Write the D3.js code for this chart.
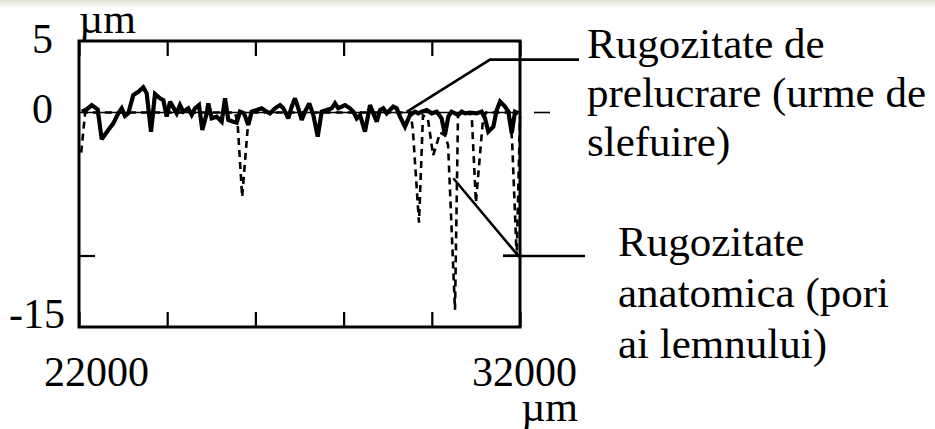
<!DOCTYPE html>
<html><head><meta charset="utf-8"><script src="https://cdn.jsdelivr.net/npm/d3@7"></script></head>
<body style="margin:0">
<svg id="chart" width="935" height="429"></svg>
<script>
// ---- data (µm) ----
const xDomain = [22000, 32000];
const yDomain = [-15, 5];
const xTickValues = [22000, 24000, 26000, 28000, 30000, 32000];
const xTickLabels = ["22000", "32000"];
const yInnerTickValues = [-10];
const yTickLabels = ["5", "0", "-15"];
const yTickLabelValues = [5, 0, -15];
const axisUnit = "µm";

// machining roughness (solid)
const solidX = [22061,22175,22288,22424,22515,22664,22778,22891,22968,23043,23118,23231,23345,23458,23535,23633,23723,23837,23912,23989,24064,24138,24215,24290,24365,24478,24555,24630,24721,24796,24896,24932,25009,25122,25236,25311,25386,25499,25576,25651,25742,25839,25916,26030,26143,26256,26331,26444,26558,26633,26746,26823,26898,26973,27050,27125,27222,27313,27413,27503,27617,27730,27805,27880,27957,28032,28145,28220,28297,28372,28485,28599,28674,28751,28826,28900,28977,29052,29127,29204,29279,29392,29506,29619,29694,29771,29884,29998,30111,30222,30299,30374,30449,30526,30601,30678,30753,30866,31018,31129,31207,31281,31395,31472,31547,31660,31735,31812,31887,31962];
const solidY = [0.06,0.22,0.52,0.22,-1.87,-1.22,-0.76,-0.06,0.29,-0.24,-0.06,1.22,1.45,1.76,1.34,-1.34,1.29,0.99,0.87,-0.29,0.76,0.36,-0.06,0.52,0.06,0.29,-0.17,0.29,0.52,-1.22,-0.06,0.64,-0.41,-0.29,-0.64,0.99,-0.52,-0.64,-0.71,0.06,-0.06,-0.87,0.06,0.17,0.29,0.06,-0.06,0.29,0.52,0.29,-0.41,0.41,0.99,0.29,-0.52,0.06,0.64,-0.17,-1.69,0.06,0.17,0.29,0.64,0.29,0.41,0.52,0.29,0.06,-0.41,-0.17,-1.34,0.52,-0.06,-0.64,0.17,0.29,-0.06,0.17,0.41,0.29,-0.29,-0.99,-0.17,0.06,-0.06,0.06,0.17,-0.06,0.06,-0.41,-1.57,-0.29,0.06,-0.06,-0.17,0.06,-0.06,-0.01,-0.06,0.06,-0.41,-1.34,-0.99,0.17,0.76,0.41,0.06,-1.45,0.06,-0.06];

// anatomical roughness, wood pores (dashed)
const dashX = [22050,22140,25540,25600,25700,25830,25920,29520,29570,29710,29800,29910,30030,30190,30300,30370,30526,30594,30650,30860,30910,31000,31160,31230,31760,31820,31925,32000];
const dashY = [-2.8,0,0,-0.9,-5.9,-0.9,0,0,-1.2,-7.7,-0.2,-0.4,-3.0,-1.4,-1.6,-2.3,-13.8,-0.2,0,0,-0.5,-6.3,-0.5,0,0,-1.9,-10.1,-0.3];

// annotations: leader anchor points (data units) and label lines
const anno1Pts = [[29430, 0.05], [31320, 3.7]];
const anno1Lines = ["Rugozitate de", "prelucrare (urme de", "slefuire)"];
const anno2Pts = [[30488, -4.6], [31962, -10.03]];
const anno2Lines = ["Rugozitate", "anatomica (pori", "ai lemnului)"];

// ---- layout ----
const FONT = "'Liberation Serif'";
const svg = d3.select("#chart");
const L = 79, R = 520, T = 41, B = 327;
const x = d3.scaleLinear().domain(xDomain).range([L, R]);
const y = d3.scaleLinear().domain(yDomain).range([B, T]);
const FS = 42;

// top faint band
const defs = svg.append("defs");
const grad = defs.append("linearGradient").attr("id", "topband").attr("x1", 0).attr("y1", 0).attr("x2", 0).attr("y2", 1);
grad.append("stop").attr("offset", "0%").attr("stop-color", "#dde2d3");
grad.append("stop").attr("offset", "100%").attr("stop-color", "#ffffff");
svg.append("rect").attr("x", 0).attr("y", 0).attr("width", 935).attr("height", 8).attr("fill", "url(#topband)");

// zero reference line
svg.append("line")
  .attr("x1", x(xDomain[0])).attr("x2", x(xDomain[1]))
  .attr("y1", y(0)).attr("y2", y(0))
  .attr("stroke", "#000").attr("stroke-width", 1.6);
svg.append("line")
  .attr("x1", x(xDomain[1]) + 14).attr("x2", x(xDomain[1]) + 30)
  .attr("y1", y(0)).attr("y2", y(0))
  .attr("stroke", "#000").attr("stroke-width", 1.6);

// dashed series
const dashData = dashX.map((d, i) => [d, dashY[i]]);
svg.append("path")
  .datum(dashData)
  .attr("fill", "none").attr("stroke", "#000").attr("stroke-width", 2.6)
  .attr("stroke-dasharray", "7,5")
  .attr("d", d3.line().x(d => x(d[0])).y(d => y(d[1])));

// solid series
const solidData = solidX.map((d, i) => [d, solidY[i]]);
svg.append("path")
  .datum(solidData)
  .attr("fill", "none").attr("stroke", "#000").attr("stroke-width", 4.2)
  .attr("stroke-linejoin", "miter").attr("stroke-miterlimit", 2.5)
  .attr("d", d3.line().x(d => x(d[0])).y(d => y(d[1])));

// axes (ticks inward, no labels)
function styleAxis(g) {
  g.select(".domain").remove();
  g.selectAll(".tick line").attr("stroke", "#000").attr("stroke-width", 2.2);
  g.selectAll(".tick text").remove();
}
svg.append("g").attr("transform", `translate(0,${T})`)
  .call(d3.axisBottom(x).tickValues(xTickValues).tickSize(15).tickFormat(""))
  .call(styleAxis);
svg.append("g").attr("transform", `translate(0,${B})`)
  .call(d3.axisTop(x).tickValues(xTickValues).tickSize(15).tickFormat(""))
  .call(styleAxis);
svg.append("g").attr("transform", `translate(${L},0)`)
  .call(d3.axisRight(y).tickValues(yInnerTickValues).tickSize(16).tickFormat(""))
  .call(styleAxis);
svg.append("g").attr("transform", `translate(${R},0)`)
  .call(d3.axisLeft(y).tickValues(yInnerTickValues).tickSize(17).tickFormat(""))
  .call(styleAxis);

// frame
svg.append("rect").attr("x", L).attr("y", T).attr("width", R - L).attr("height", B - T)
  .attr("fill", "none").attr("stroke", "#000").attr("stroke-width", 3);

function txt(xp, yp, s, anchor, fs) {
  return svg.append("text").attr("x", xp).attr("y", yp)
    .attr("font-family", FONT).attr("font-size", fs || FS)
    .attr("text-anchor", anchor || "start").text(s);
}

// y tick labels
const yLabX = [53, 53, 65];
const yLabOffsets = [12, 10.5, 1];
yTickLabelValues.forEach((v, i) => txt(yLabX[i], y(v) + yLabOffsets[i], yTickLabels[i], "end"));
txt(79, 33, axisUnit);

// x tick labels
txt(x(22000) - 35, 386, xTickLabels[0]);
txt(x(32000) + 57, 386, xTickLabels[1], "end");
txt(x(32000) + 58, 421, axisUnit, "end");

// annotations
function leader(pts, endX) {
  const p = pts.map(d => [x(d[0]), y(d[1])]);
  p.push([endX, p[p.length - 1][1]]);
  svg.append("path").attr("d", d3.line()(p))
    .attr("fill", "none").attr("stroke", "#000").attr("stroke-width", 2.6);
}
leader(anno1Pts, 579);
leader(anno2Pts, 585);
svg.append("line").attr("x1", 503).attr("x2", R).attr("y1", y(-10)).attr("y2", y(-10))
  .attr("stroke", "#000").attr("stroke-width", 2.2);

function block(lines, x0, y0, lh) {
  lines.forEach((t, i) => txt(x0, y0 + i * lh, t, "start", 43));
}
block(anno1Lines, 587, 58, 49);
block(anno2Lines, 618, 256, 51);
</script>
</body>
</html>
